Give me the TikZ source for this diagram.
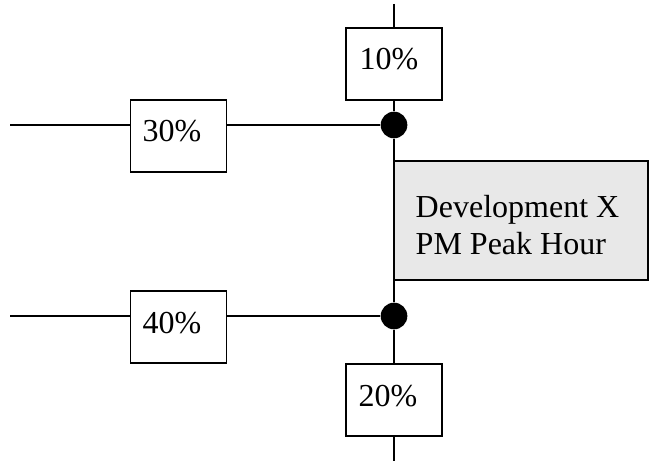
\documentclass[tikz,border=0pt]{standalone}
\usepackage{fontspec}
\setmainfont{Liberation Serif}
\begin{document}
\begin{tikzpicture}[x=0.75pt,y=-0.75pt,line width=1.1pt,
  pctbox/.style={draw=black,fill=white,minimum width=72pt,minimum height=54pt,inner sep=0pt,outer sep=0pt},
  devbox/.style={draw=black,fill=black!9,minimum width=190.5pt,minimum height=89.25pt,inner sep=0pt,outer sep=0pt,anchor=north west},
  dot/.style={circle,fill=black,minimum size=20pt,inner sep=0pt},
  txt/.style={anchor=base west,inner sep=0pt,font=\fontsize{24}{28}\selectfont},
  wire/.style={draw=black,line width=1.1pt}]
\useasboundingbox (0,0) rectangle (649,463);
% coordinates
\coordinate (top) at (394,4);
\coordinate (bot) at (394,461);
\coordinate (l1) at (10,125);
\coordinate (l2) at (10,316);
% boxes
\node[pctbox] (b10) at (394,64) {};
\node[pctbox] (b20) at (394,400) {};
\node[pctbox] (b30) at (178.5,136) {};
\node[pctbox] (b40) at (178.5,327) {};
\node[dot] (d1) at (394,125) {};
\node[dot] (d2) at (394,316) {};
% connectors
\path[wire] (top) -- (b10.north);
\path[wire] (b10.south) -- (d1);
\path[wire] (d1) -- (d2);
\path[wire] (d2) -- (b20.north);
\path[wire] (b20.south) -- (bot);
\path[wire] (l1) -- (l1 -| b30.west);
\path[wire] (b30.east |- d1) -- (d1);
\path[wire] (l2) -- (l2 -| b40.west);
\path[wire] (b40.east |- d2) -- (d2);
\node[devbox] (dev) at (394,161) {};
% texts
\node[txt] (t10) at (359,70) {10\%};
\node[txt] (t20) at (358,406) {20\%};
\node[txt] (t30) at (142,142) {30\%};
\node[txt] (t40) at (142,333) {40\%};
\node[txt] (td1) at (415,218) {Development X};
\node[txt] (td2) at (415,254) {PM Peak Hour};
\end{tikzpicture}
\end{document}
